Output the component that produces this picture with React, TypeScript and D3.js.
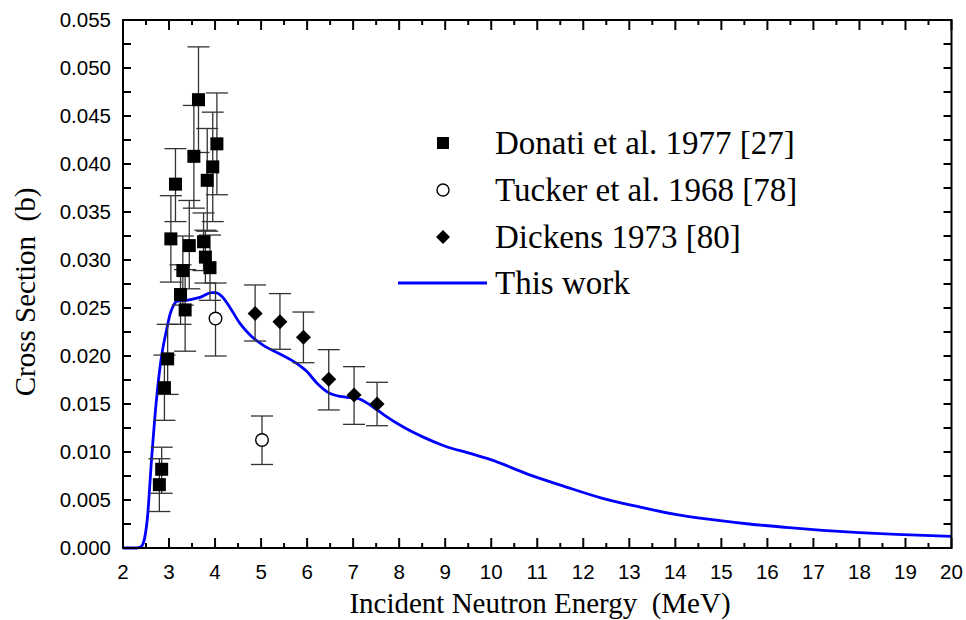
import React from "react";
import * as d3 from "d3";

// ---- Data ----
const donatiE = [2.79, 2.84, 2.90, 2.97, 3.04, 3.14, 3.25, 3.30, 3.35, 3.44, 3.54, 3.64, 3.75, 3.79, 3.83, 3.89, 3.95, 4.04];
const donatiS = [0.0066, 0.0082, 0.0167, 0.0197, 0.0322, 0.0379, 0.0264, 0.0289, 0.0248, 0.0315, 0.0408, 0.0467, 0.0319, 0.0303, 0.0383, 0.0292, 0.0397, 0.0421];
const donatiLo = [0.0038, 0.0057, 0.0133, 0.0160, 0.0277, 0.0340, 0.0233, 0.0253, 0.0205, 0.0270, 0.0354, 0.0412, 0.0289, 0.0276, 0.0330, 0.0258, 0.0340, 0.0368];
const donatiHi = [0.0093, 0.0105, 0.0201, 0.0233, 0.0367, 0.0416, 0.0295, 0.0325, 0.0290, 0.0362, 0.0461, 0.0522, 0.0349, 0.0331, 0.0437, 0.0326, 0.0454, 0.0474];

const tuckerE = [4.01, 5.02];
const tuckerS = [0.0239, 0.01125];
const tuckerLo = [0.0200, 0.0087];
const tuckerHi = [0.0276, 0.01375];

const dickensE = [4.87, 5.41, 5.92, 6.47, 7.02, 7.52];
const dickensS = [0.02444, 0.02358, 0.02195, 0.01757, 0.01594, 0.0150];
const dickensLo = [0.02156, 0.0207, 0.0193, 0.01438, 0.01288, 0.01274];
const dickensHi = [0.0274, 0.0265, 0.02458, 0.02066, 0.01889, 0.01726];

const workE = [2.0, 2.30, 2.38, 2.44, 2.53, 2.62, 2.72, 2.82, 2.95, 3.02, 3.10, 3.17, 3.38, 3.67, 3.93, 4.0, 4.15, 4.33, 4.54, 4.76, 5.05, 5.41, 5.78, 5.99, 6.21, 6.5, 6.86, 7.08, 7.37, 7.66, 8.09, 8.5, 9.0, 9.5, 9.99, 10.79, 11.6, 12.4, 13.2, 14.0, 14.8, 15.6, 16.4, 17.2, 18.0, 18.8, 20.0];
const workS = [0, 0, 0.0001, 0.0005, 0.0031, 0.0092, 0.0151, 0.0194, 0.0228, 0.0243, 0.0253, 0.0257, 0.0258, 0.0261, 0.0266, 0.0266, 0.0262, 0.0250, 0.0234, 0.0222, 0.0211, 0.0202, 0.0192, 0.0184, 0.0172, 0.0161, 0.0157, 0.0156, 0.0149, 0.0139, 0.0126, 0.0116, 0.0106, 0.0099, 0.0092, 0.0077, 0.0064, 0.0052, 0.0043, 0.0035, 0.00295, 0.0025, 0.00215, 0.00184, 0.0016, 0.00142, 0.00122];

const xTickValues = d3.range(2, 21, 1);
const yTickValues = d3.range(0, 0.0551, 0.005);
const legendLabels = ["Donati et al. 1977 [27]", "Tucker et al. 1968 [78]", "Dickens 1973 [80]", "This work"];
const xTitle = "Incident Neutron Energy  (MeV)";
const yTitle = "Cross Section  (b)";

// ---- Layout ----
const W = 966, H = 620;
const L = 123, R = 951.5, T = 20, B = 548;
const SERIF = "'Liberation Serif', 'Times New Roman', serif";
const SANS = "'Liberation Sans', Arial, sans-serif";

export default function App() {
  const x = d3.scaleLinear().domain([2, 20]).range([L, R]);
  const y = d3.scaleLinear().domain([0, 0.055]).range([B, T]);

  const line = d3
    .line<number>()
    .x((_, i) => x(workE[i]))
    .y((_, i) => y(workS[i]))
    .curve(d3.curveMonotoneX);

  const xMinor = d3.range(2, 20.01, 0.5);
  const yMinor = d3.range(0, 0.05501, 0.0025);
  const ebColor = "#333";
  const cap = 11;

  const errBar = (E: number, lo: number, hi: number, k: string) => (
    <g key={k} stroke={ebColor} strokeWidth={1.3}>
      <line x1={x(E)} x2={x(E)} y1={y(lo)} y2={y(hi)} />
      <line x1={x(E) - cap} x2={x(E) + cap} y1={y(lo)} y2={y(lo)} />
      <line x1={x(E) - cap} x2={x(E) + cap} y1={y(hi)} y2={y(hi)} />
    </g>
  );

  const sq = 13;
  const dm = 7.5;
  const diamond = (cx: number, cy: number, r: number) =>
    `M${cx},${cy - r}L${cx + r},${cy}L${cx},${cy + r}L${cx - r},${cy}Z`;

  const legX = 443;
  const legY = [143, 190, 237, 283];

  return (
    <div style={{ position: "absolute", left: 0, top: 0 }}>
      <svg width={W} height={H} style={{ display: "block", background: "#fff" }}>
        <rect x={0} y={0} width={W} height={H} fill="#fff" />

        {/* ticks */}
        <g stroke="#000" strokeWidth={2}>
          {xMinor.map((v) => {
            const major = Math.abs(v - Math.round(v)) < 1e-6;
            const len = major ? 10 : 5;
            return (
              <g key={"xt" + v}>
                <line x1={x(v)} x2={x(v)} y1={B} y2={B - len} />
                <line x1={x(v)} x2={x(v)} y1={T} y2={T + len} />
              </g>
            );
          })}
          {yMinor.map((v) => (
            <g key={"yt" + v}>
              <line x1={L} x2={L + 8} y1={y(v)} y2={y(v)} />
              <line x1={R} x2={R - 8} y1={y(v)} y2={y(v)} />
            </g>
          ))}
        </g>

        {/* tick labels */}
        <g fontFamily={SANS} fontSize={20.5} fill="#000">
          {xTickValues.map((v) => (
            <text key={"xl" + v} x={x(v)} y={579} textAnchor="middle">
              {v}
            </text>
          ))}
          {yTickValues.map((v) => (
            <text key={"yl" + v} x={111} y={y(v) + 7} textAnchor="end">
              {d3.format(".3f")(v)}
            </text>
          ))}
        </g>

        {/* axis titles */}
        <text x={540} y={613} textAnchor="middle" fontFamily={SERIF} fontSize={29} style={{ whiteSpace: "pre" }}>
          {xTitle}
        </text>
        <text
          transform={`translate(35,292) rotate(-90)`}
          textAnchor="middle"
          fontFamily={SERIF}
          fontSize={29}
          style={{ whiteSpace: "pre" }}
        >
          {yTitle}
        </text>

        {/* curve */}
        <path d={line(workE) || ""} fill="none" stroke="#0000ff" strokeWidth={2.8} />

        {/* error bars */}
        {donatiE.map((E, i) => errBar(E, donatiLo[i], donatiHi[i], "de" + i))}
        {tuckerE.map((E, i) => errBar(E, tuckerLo[i], tuckerHi[i], "te" + i))}
        {dickensE.map((E, i) => errBar(E, dickensLo[i], dickensHi[i], "ke" + i))}

        {/* markers */}
        {donatiE.map((E, i) => (
          <rect key={"d" + i} x={x(E) - sq / 2} y={y(donatiS[i]) - sq / 2} width={sq} height={sq} fill="#000" />
        ))}
        {tuckerE.map((E, i) => (
          <circle key={"t" + i} cx={x(E)} cy={y(tuckerS[i])} r={6.3} fill="#fff" stroke="#000" strokeWidth={1.4} />
        ))}
        {dickensE.map((E, i) => (
          <path key={"k" + i} d={diamond(x(E), y(dickensS[i]), dm)} fill="#000" />
        ))}

        {/* frame */}
        <rect x={L} y={T} width={R - L} height={B - T} fill="none" stroke="#000" strokeWidth={2} />

        {/* legend */}
        <rect x={legX - 6} y={legY[0] - 6} width={12} height={12} fill="#000" />
        <circle cx={legX} cy={legY[1]} r={6} fill="#fff" stroke="#000" strokeWidth={1.4} />
        <path d={diamond(legX, legY[2], 7)} fill="#000" />
        <line x1={398} x2={487} y1={legY[3]} y2={legY[3]} stroke="#0000ff" strokeWidth={2.8} />
        <g fontFamily={SERIF} fontSize={33} fill="#000">
          {legendLabels.map((s, i) => (
            <text key={"lg" + i} x={495} y={legY[i] + 11}>
              {s}
            </text>
          ))}
        </g>
      </svg>
    </div>
  );
}
